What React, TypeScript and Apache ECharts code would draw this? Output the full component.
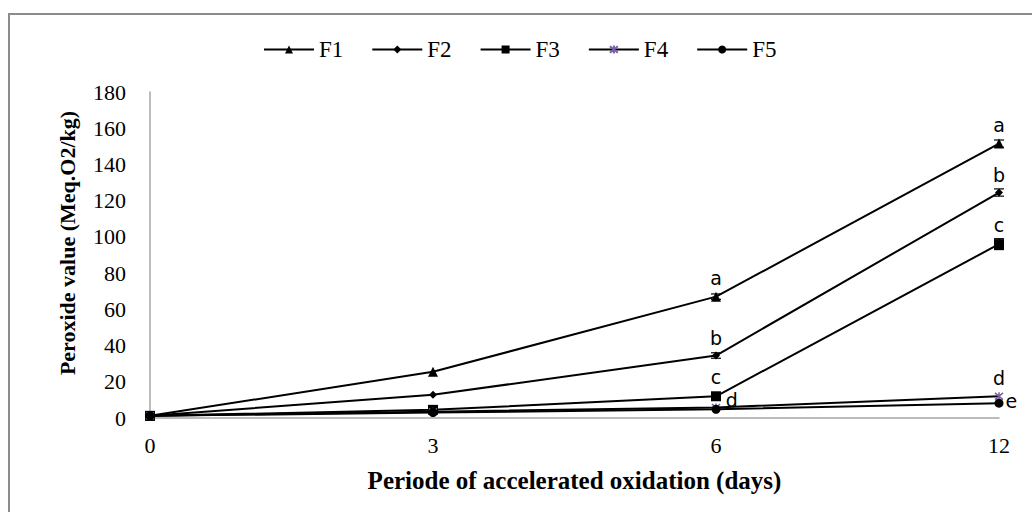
import React, { useEffect, useRef } from "react";
import * as echarts from "echarts";

const days = ["0", "3", "6", "12"];
const seriesNames = ["F1", "F2", "F3", "F4", "F5"];
const valuesF1 = [1.2, 25.5, 67, 151.5];
const valuesF2 = [1.2, 12.8, 34.5, 124.5];
const valuesF3 = [1.2, 4.5, 12, 96];
const valuesF4 = [1.2, 3.5, 5.8, 12];
const valuesF5 = [1.2, 3, 4.8, 8.2];
const errF1 = [0, 0, 1.5, 2];
const errF2 = [0, 0, 1.5, 2];
const errF3 = [0, 0, 0, 3];
const lettersF1 = ["", "", "a", "a"];
const lettersF2 = ["", "", "b", "b"];
const lettersF3 = ["", "", "c", "c"];
const lettersF4 = ["", "", "d", "d"];
const lettersF5 = ["", "", "", "e"];
const yTicks = [0, 180, 20];

export default function App() {
  const ref = useRef<HTMLDivElement>(null);
  useEffect(() => {
    if (!ref.current) return;
    const chart = echarts.init(ref.current, undefined, { renderer: "svg" });
    const serif = "Liberation Serif";
    const letterFont = "DejaVu Sans";
    const mkData = (vals: number[], letters: string[], pos: (i: number) => any) =>
      vals.map((v, i) => ({
        value: v,
        label: letters[i]
          ? { show: true, formatter: letters[i], ...pos(i) }
          : { show: false },
      }));
    const labelBase = { fontSize: 19, fontFamily: letterFont, color: "#000" };
    const star = "path://M0,0L10,10M10,0L0,10M5,-1L5,11";
    const lineSeries = (name: string, data: any[], symbol: string, size: number, color = "#000") => ({
      name,
      type: "line",
      data,
      symbol,
      symbolSize: size,
      showSymbol: true,
      lineStyle: { color: "#000", width: 2 },
      itemStyle: { color, borderColor: color, borderWidth: symbol.startsWith("path") ? 1.5 : 0 },
      label: { ...labelBase },
      z: 3,
    });
    const errSeries = (vals: number[], errs: number[]) => ({
      type: "custom",
      silent: true,
      z: 4,
      data: vals.map((v, i) => [i, v - errs[i], v + errs[i]]).filter((d, i) => errs[i] > 0),
      renderItem: (params: any, api: any) => {
        const lo = api.coord([api.value(0), api.value(1)]);
        const hi = api.coord([api.value(0), api.value(2)]);
        const w = 5;
        const st = { stroke: "#000", lineWidth: 1.2 };
        return {
          type: "group",
          children: [
            { type: "line", shape: { x1: lo[0], y1: lo[1], x2: hi[0], y2: hi[1] }, style: st },
            { type: "line", shape: { x1: lo[0] - w, y1: lo[1], x2: lo[0] + w, y2: lo[1] }, style: st },
            { type: "line", shape: { x1: hi[0] - w, y1: hi[1], x2: hi[0] + w, y2: hi[1] }, style: st },
          ],
        };
      },
    });
    chart.setOption({
      animation: false,
      backgroundColor: "#fff",
      graphic: [
        {
          type: "rect",
          shape: { x: 9, y: 14, width: 1100, height: 600 },
          style: { fill: "none", stroke: "#8c8c8c", lineWidth: 2 },
          silent: true,
        },
      ],
      legend: {
        data: seriesNames,
        left: 258,
        top: 33,
        itemWidth: 50,
        itemHeight: 10,
        itemGap: 28,
        textStyle: { fontFamily: serif, fontSize: 23, color: "#000" },
      },
      grid: { left: 150, right: 33, top: 92, bottom: 94, containLabel: false },
      xAxis: {
        type: "category",
        data: days,
        boundaryGap: false,
        axisLine: { lineStyle: { color: "#a6a6a6", width: 1.5 } },
        axisTick: { show: false },
        axisLabel: { fontFamily: serif, fontSize: 22, color: "#000", margin: 16 },
        name: "Periode of accelerated oxidation (days)",
        nameLocation: "middle",
        nameGap: 50,
        nameTextStyle: { fontFamily: serif, fontSize: 25, fontWeight: "bold", color: "#000" },
      },
      yAxis: {
        type: "value",
        min: yTicks[0],
        max: yTicks[1],
        interval: yTicks[2],
        axisLine: { show: true, lineStyle: { color: "#a6a6a6", width: 1.5 } },
        axisTick: { show: false },
        splitLine: { show: false },
        axisLabel: { fontFamily: serif, fontSize: 22, color: "#000", margin: 24 },
        name: "Peroxide value (Meq.O2/kg)",
        nameLocation: "middle",
        nameGap: 72,
        nameTextStyle: {
          fontFamily: serif,
          fontSize: 22,
          fontWeight: "bold",
          color: "#000",
          padding: [0, 0, 0, 24],
        },
      },
      series: [
        lineSeries("F1", mkData(valuesF1, lettersF1, () => ({ position: "top", distance: 4 })), "triangle", 10),
        lineSeries("F2", mkData(valuesF2, lettersF2, () => ({ position: "top", distance: 4 })), "diamond", 8),
        lineSeries("F3", mkData(valuesF3, lettersF3, () => ({ position: "top", distance: 5 })), "rect", 10),
        lineSeries(
          "F4",
          mkData(valuesF4, lettersF4, (i) =>
            i === 2 ? { position: "right", distance: 5, offset: [0, -7] } : { position: "top", distance: 4 }
          ),
          star,
          8,
          "#7b5ea7"
        ),
        lineSeries("F5", mkData(valuesF5, lettersF5, () => ({ position: "right", distance: 2, offset: [0, -2] })), "circle", 9),
        errSeries(valuesF1, errF1),
        errSeries(valuesF2, errF2),
        errSeries(valuesF3, errF3),
      ],
    });
    return () => chart.dispose();
  }, []);
  return (
    <div
      ref={ref}
      style={{ position: "fixed", left: 0, top: 0, width: 1032, height: 512 }}
    />
  );
}
